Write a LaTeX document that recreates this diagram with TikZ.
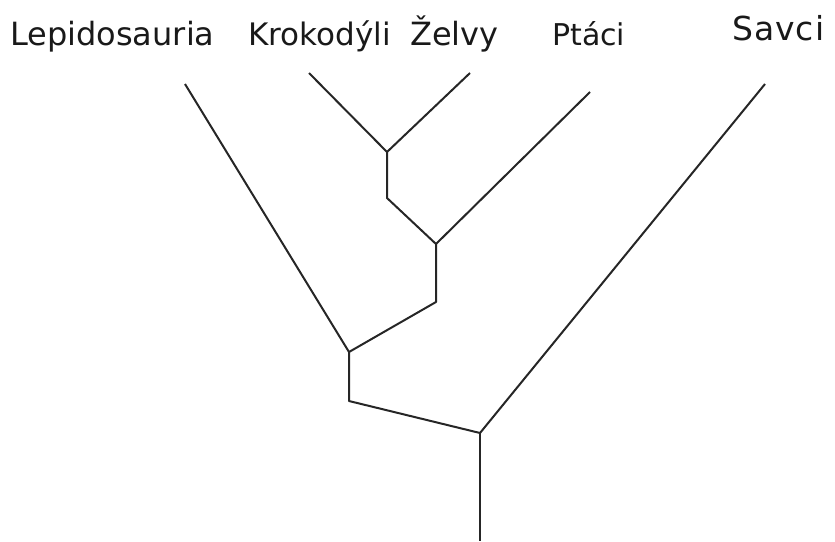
\documentclass[tikz,border=0pt]{standalone}
\usepackage{fontspec}
\setmainfont{DejaVu Sans}
\begin{document}
\begin{tikzpicture}[x=1pt,y=-1pt,
  branch/.style={draw=black!85,line width=2pt,line join=round},
  taxon/.style={anchor=base west,inner sep=0pt,font=\fontsize{32}{38}\selectfont,text=black!90}]
\useasboundingbox (0,0) rectangle (835,541);
% labels
\node[taxon] (lep) at (10,45) {Lepidosauria};
\node[taxon,font=\fontsize{31}{38}\selectfont] (kro) at (248,45) {Krokodýli};
\node[taxon] (zel) at (410,45) {Želvy};
\node[taxon,font=\fontsize{30}{38}\selectfont] (pta) at (552,45) {Ptáci};
\node[taxon,font=\fontsize{33}{38}\selectfont] (sav) at (732,40) {S\kern1pt a\kern1pt v\kern1pt c\kern1pt i};
% leaf tips
\coordinate (tlep) at (185,84);
\coordinate (tkro) at (309,73);
\coordinate (tzel) at (470,73);
\coordinate (tpta) at (590,92);
\coordinate (tsav) at (765,84);
% internal nodes
\coordinate (A) at (387,152);
\coordinate (A2) at (387,198);
\coordinate (B) at (436,244);
\coordinate (B2) at (436,302);
\coordinate (C) at (349,352);
\coordinate (C2) at (349,401);
\coordinate (R) at (480,433);
\coordinate (root) at (480,541);
% branches
\draw[branch] (tkro) -- (A);
\draw[branch] (tzel) -- (A);
\draw[branch] (A) -- (A2) -- (B);
\draw[branch] (tpta) -- (B);
\draw[branch] (B) -- (B2) -- (C);
\draw[branch] (tlep) -- (C);
\draw[branch] (C) -- (C2) -- (R);
\draw[branch] (tsav) -- (R);
\draw[branch] (R) -- (root);
\end{tikzpicture}
\end{document}
